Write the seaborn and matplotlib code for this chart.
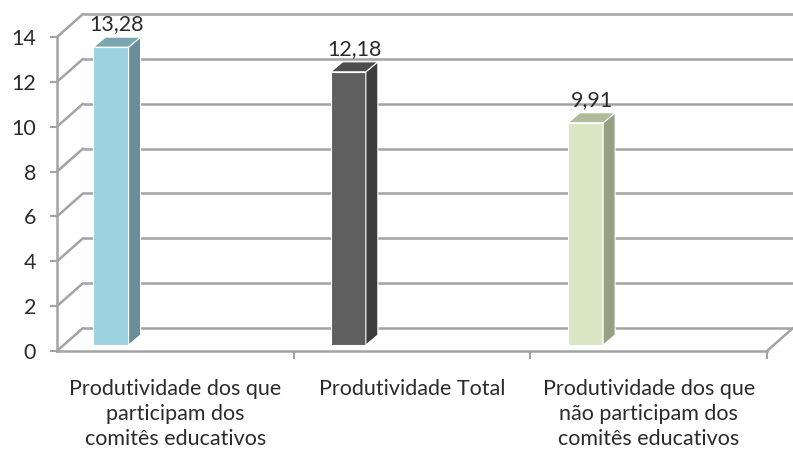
import matplotlib
matplotlib.use("Agg")
import matplotlib.pyplot as plt
import seaborn as sns
import pandas as pd
from matplotlib.patches import Polygon

categories = ["Produtividade dos que\nparticipam dos\ncomitês educativos",
              "Produtividade Total",
              "Produtividade dos que\nnão participam dos\ncomitês educativos"]
values = [13.28, 12.18, 9.91]
value_labels = ["13,28", "12,18", "9,91"]
y_ticks = [0, 2, 4, 6, 8, 10, 12, 14]

front_colors = ["#9dd2e0", "#5f5f5f", "#dbe6c4"]
side_colors = ["#6a8e99", "#3d3d3d", "#979f85"]
top_colors = ["#7aa6b1", "#4d4d4d", "#b2ba9c"]

sns.set_theme(style="white")
plt.rcParams["font.family"] = ["Lato", "DejaVu Sans"]

W, H = 793, 457
fig = plt.figure(figsize=(W / 100, H / 100), dpi=100)
ax = fig.add_axes([57 / W, (H - 351) / H, 710 / W, 314 / H])

df = pd.DataFrame({"cat": categories, "val": values})
sns.barplot(data=df, x="cat", y="val", hue="cat", palette=front_colors,
            width=0.148, legend=False, ax=ax, saturation=1)

X0, X1 = -0.2276, 2.7645
ax.set_xlim(X0, X1)
ax.set_ylim(0, 14)
pxx = 710 / (X1 - X0)
pxy = 314 / 14
DX, DY = 26 / pxx, 23 / pxy          # wall depth
BDX, BDY = 12 / pxx, 10 / pxy        # bar depth
BASE = 6 / pxy                       # bar baseline offset
XR = X1 + DX

grid_c = "#a3a3a3"
lw = 1.8
txt_c = "#2b2b2b"
fs = 15.5
# back wall gridlines + left wall diagonals
for v in y_ticks:
    ax.plot([X0 + DX, XR], [v + DY, v + DY], color=grid_c, lw=lw,
            clip_on=False, zorder=0.5, solid_capstyle="butt")
    ax.plot([X0, X0 + DX], [v, v + DY], color=grid_c, lw=lw,
            clip_on=False, zorder=0.5)
# floor right diagonal
ax.plot([X1, XR], [0, DY], color=grid_c, lw=lw, clip_on=False, zorder=0.5)

# 3D bars
for i, p in enumerate(ax.patches):
    v = p.get_height()
    p.set_y(BASE)
    p.set_clip_on(False)
    p.set_edgecolor("white")
    p.set_linewidth(0.8)
    p.set_zorder(3)
    x = p.get_x()
    w = p.get_width()
    top = BASE + v
    side = Polygon([(x + w, BASE), (x + w + BDX, BASE + BDY),
                    (x + w + BDX, top + BDY), (x + w, top)],
                   closed=True, facecolor=side_colors[i], edgecolor="white",
                   lw=0.8, zorder=3, clip_on=False)
    tp = Polygon([(x, top), (x + BDX, top + BDY), (x + w + BDX, top + BDY),
                  (x + w, top)], closed=True, facecolor=top_colors[i],
                 edgecolor="white", lw=0.8, zorder=3, clip_on=False)
    ax.add_patch(side)
    ax.add_patch(tp)
    ax.annotate(value_labels[i], (x + w / 2 + BDX / 2, top + BDY),
                xytext=(0, 5), textcoords="offset points", ha="center",
                va="baseline", fontsize=fs, color=txt_c,
                annotation_clip=False)

# spines
for s in ["top", "right"]:
    ax.spines[s].set_visible(False)
for s in ["left", "bottom"]:
    ax.spines[s].set_color(grid_c)
    ax.spines[s].set_linewidth(lw)

ax.set_yticks(y_ticks)
ax.set_yticklabels([str(t) for t in y_ticks])
ax.tick_params(axis="y", length=5, width=1.5, color=grid_c, direction="out",
               labelsize=fs, labelcolor=txt_c, pad=10, left=True)

step = (X1 - X0) / 3
bounds = [X0 + step * (i + 1) for i in range(3)]
centers = [X0 + step * (i + 0.5) for i in range(3)]
ax.set_xticks(bounds)
ax.set_xticklabels([])
ax.tick_params(axis="x", which="major", length=6, width=1.5, color=grid_c,
               direction="out", bottom=True)
ax.set_xticks(centers, minor=True)
ax.set_xticklabels(categories, minor=True)
ax.tick_params(axis="x", which="minor", length=0, labelsize=fs,
               labelcolor=txt_c, pad=20)
for t in ax.get_xticklabels(minor=True):
    t.set_linespacing(1.32)
ax.set_xlabel("")
ax.set_ylabel("")
ax.grid(False)

fig.savefig("out.png", dpi=100)
